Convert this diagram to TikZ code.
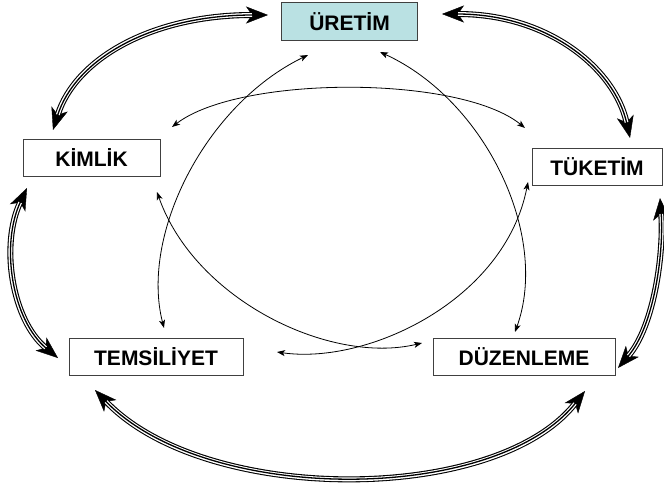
\documentclass[tikz,border=0pt]{standalone}
\usepackage{fontspec}
\setmainfont{Liberation Sans}
\usepackage{tikz}
\usetikzlibrary{arrows.meta}
\definecolor{boxcyan}{RGB}{186,225,227}

\begin{document}
\begin{tikzpicture}[x=1pt, y=-1pt,
  box/.style={draw=black!75, line width=0.9pt, minimum height=37, inner sep=0pt, outer sep=0pt,
    font=\fontsize{21}{25}\selectfont\bfseries},
  thinarrow/.style={line width=0.8pt, >={Stealth[length=8pt,width=6pt,inset=2pt]}, <->},
  cyclearrow/.style={line width=6pt, >={Stealth[length=22pt,width=17pt,inset=6pt,line width=0.4pt]}, <->,
    postaction={draw=white, -, line width=3.8pt, shorten <=16pt, shorten >=16pt},
    postaction={draw=black, -, line width=1.3pt, shorten <=15pt, shorten >=15pt}}]
\useasboundingbox (0,0) rectangle (664,492);

% boxes
\node[box, fill=boxcyan, minimum width=136, minimum height=38] (uretim) at (349.5,21.5) {ÜRETİM};
\node[box, minimum width=137] (kimlik) at (91.5,157.5) {KİMLİK};
\node[box, minimum width=130] (tuketim) at (597,166.5) {TÜKETİM};
\node[box, minimum width=174] (temsiliyet) at (156,356.5) {TEMSİLİYET};
\node[box, minimum width=182] (duzenleme) at (524,356.5) {DÜZENLEME};

% outer cycle
\draw[cyclearrow] ([shift={(-13.5,-6.5)}]uretim.west) .. controls +(-118,0) and +(22,-70) .. ([shift={(-38.5,-9)}]kimlik.north);
\draw[cyclearrow] ([shift={(24.5,-7.5)}]uretim.east) .. controls +(108,0) and +(-15,-68) .. ([shift={(33,-10)}]tuketim.north);
\draw[cyclearrow] ([shift={(-64.5,12)}]kimlik.south) .. controls +(-27,57) and +(-46,-38) .. ([shift={(-11,1.5)}]temsiliyet.west);
\draw[cyclearrow] ([shift={(63,13)}]tuketim.south) .. controls +(4,52) and +(37,-43) .. ([shift={(3,11.5)}]duzenleme.east);
\draw[cyclearrow] ([shift={(-61,15)}]temsiliyet.south) .. controls +(110,115) and +(-90,114) .. ([shift={(61,16)}]duzenleme.south);

% inner links
\draw[thinarrow] ([shift={(12,-30.5)}]kimlik.east) .. controls +(68,-52) and +(-65,-53) .. ([shift={(-7,-38.5)}]tuketim.west);
\draw[thinarrow] ([shift={(-41.5,14.5)}]uretim.south) .. controls +(-103,50) and +(-24,-93) .. ([shift={(8,-10)}]temsiliyet.north);
\draw[thinarrow] ([shift={(30.5,11.5)}]uretim.south) .. controls +(105,48) and +(35,-97) .. ([shift={(-9,-6)}]duzenleme.north);
\draw[thinarrow] ([shift={(65.5,16)}]kimlik.south) .. controls +(38,108) and +(-92,22) .. ([shift={(-11,-13.5)}]duzenleme.west);
\draw[thinarrow] ([shift={(34,-4.5)}]temsiliyet.east) .. controls +(91,13) and +(-23,118) .. ([shift={(-4,15.5)}]tuketim.west);
\end{tikzpicture}
\end{document}
